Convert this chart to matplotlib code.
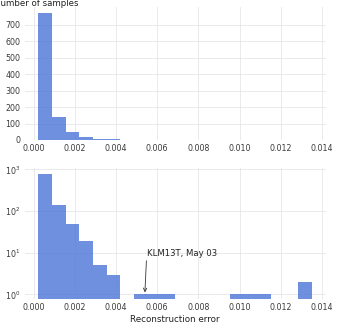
import matplotlib
matplotlib.use("Agg")
import matplotlib.pyplot as plt
import numpy as np

# Histogram data (20 equal-width bins)
bin_start = 0.00022
bin_end = 0.01352
n_bins = 20
counts = [770, 142, 48, 19, 5, 3, 0, 1, 1, 1, 0, 0, 0, 0, 1, 1, 1, 0, 0, 2]
x_ticks = [0.000, 0.002, 0.004, 0.006, 0.008, 0.010, 0.012, 0.014]
x_tick_labels = ["0.000", "0.002", "0.004", "0.006", "0.008", "0.010", "0.012", "0.014"]
lin_y_ticks = [0, 100, 200, 300, 400, 500, 600, 700]
annot_text = "KLM13T, May 03"
annot_xy = (0.00540, 1.12)
annot_text_xy = (0.00548, 7.5)

edges = np.linspace(bin_start, bin_end, n_bins + 1)
centers = (edges[:-1] + edges[1:]) / 2
bar_color = "#4f78d8"

fig = plt.figure(figsize=(3.38, 3.24), dpi=100)
ax1 = fig.add_axes([0.0725, 0.568, 0.8915, 0.41])
ax2 = fig.add_axes([0.0725, 0.078, 0.8915, 0.403])

for ax in (ax1, ax2):
    ax.hist(centers, bins=edges, weights=counts, color=bar_color, alpha=0.82,
            zorder=2)
    for s in ax.spines.values():
        s.set_visible(False)
    ax.grid(True, color="#e6e6e6", linewidth=0.6, zorder=0)
    ax.set_axisbelow(True)
    ax.tick_params(length=0, labelsize=5.7, colors="#3a3a3a", pad=3)
    ax.set_xticks(x_ticks)
    ax.set_xticklabels(x_tick_labels)

ax1.set_yticks(lin_y_ticks)
ax1.set_ylim(0, 808)

ax2.set_yscale("log")
ax2.set_ylim(0.79, 1070)
ax2.set_yticks([1, 10, 100, 1000])
ax2.minorticks_off()
ax2.set_xlabel("Reconstruction error", fontsize=6.3, color="#222222", labelpad=2)

for ax in (ax1, ax2):
    ax.set_xlim(bin_start - 0.05 * (bin_end - bin_start), bin_end + 0.05 * (bin_end - bin_start))

fig.text(-0.017, 0.99, "Number of samples", fontsize=6.2, color="#222222",
         va="center", ha="left")

ax2.annotate(annot_text, xy=annot_xy, xytext=annot_text_xy, fontsize=6.1,
             color="#222222", ha="left", va="bottom",
             arrowprops=dict(arrowstyle="->", color="#333333", lw=0.6,
                             relpos=(0, 0), shrinkA=0, shrinkB=0))

fig.savefig("out.png", dpi=100)
